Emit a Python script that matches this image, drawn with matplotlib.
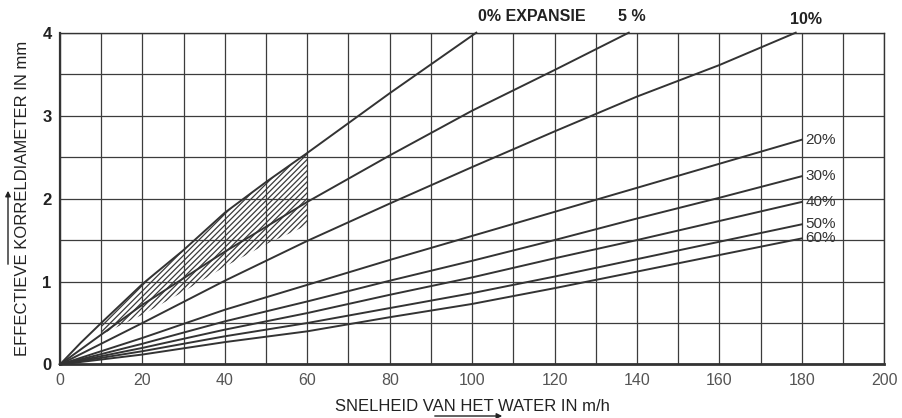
import numpy as np
import matplotlib
matplotlib.use('Agg')
import matplotlib.pyplot as plt

x_0 = [0, 5, 10, 20, 30, 40, 50, 60, 80, 101]
y_0 = [0, 0.26, 0.5, 0.97, 1.38, 1.83, 2.2, 2.55, 3.27, 4.0]
x_5 = [0, 10, 20, 30, 40, 60, 80, 100, 120, 138]
y_5 = [0, 0.36, 0.72, 1.04, 1.36, 1.96, 2.52, 3.06, 3.55, 4.0]
x_10 = [0, 20, 40, 60, 80, 100, 120, 140, 160, 178.5]
y_10 = [0, 0.5, 1.01, 1.49, 1.94, 2.38, 2.81, 3.23, 3.61, 4.0]

x_lo = [0, 20, 40, 60, 80, 100, 120, 140, 160, 180]
y_20 = [0, 0.32, 0.66, 0.96, 1.26, 1.55, 1.84, 2.13, 2.42, 2.71]
y_30 = [0, 0.25, 0.52, 0.76, 1.01, 1.25, 1.50, 1.76, 2.01, 2.27]
y_40 = [0, 0.20, 0.42, 0.62, 0.84, 1.05, 1.28, 1.50, 1.73, 1.96]
y_50 = [0, 0.16, 0.34, 0.50, 0.68, 0.86, 1.06, 1.27, 1.48, 1.69]
y_60 = [0, 0.12, 0.27, 0.40, 0.57, 0.73, 0.92, 1.12, 1.32, 1.52]
labels_lo = ['20%', '30%', '40%', '50%', '60%']

# gearceerd gebied
x_hatch = [10, 20, 30, 40, 50, 60]
y_hatch_top = [0.5, 0.97, 1.38, 1.83, 2.2, 2.55]
y_hatch_bot = [0.36, 0.6, 0.88, 1.18, 1.45, 1.68]

xticks = [0, 20, 40, 60, 80, 100, 120, 140, 160, 180, 200]
yticks = [0, 1, 2, 3, 4]

lc = '#333333'
plt.rcParams['font.family'] = ['Liberation Sans', 'DejaVu Sans']
plt.rcParams['hatch.linewidth'] = 0.9
plt.rcParams['hatch.color'] = '#3a3a3a'

fig = plt.figure(figsize=(9.03, 4.18), dpi=100)
ax = fig.add_axes([0.0664, 0.128, 0.9129, 0.7938])

ax.set_xlim(0, 200)
ax.set_ylim(0, 4)
ax.set_xticks(np.arange(0, 201, 10), minor=True)
ax.set_yticks(np.arange(0, 4.01, 0.5), minor=True)
ax.set_xticks(xticks)
ax.set_yticks(yticks)
ax.set_xticklabels([str(v) for v in xticks], fontsize=11.5, color='#555555')
ax.set_yticklabels([str(v) for v in yticks], fontsize=12, fontweight='bold', color='#222222')
ax.tick_params(which='both', length=0, pad=6)
ax.grid(which='both', color='#3c3c3c', linewidth=0.9)
ax.set_axisbelow(True)
for s in ax.spines.values():
    s.set_color('#333333')
    s.set_linewidth(1.0)
ax.spines['bottom'].set_linewidth(2.0)
ax.spines['left'].set_linewidth(1.6)

ax.fill_between(x_hatch, y_hatch_bot, y_hatch_top, facecolor='none',
                edgecolor='#3a3a3a', hatch='//////', linewidth=0)

kw = dict(color=lc, linewidth=1.4, clip_on=False)
ax.plot(x_0, y_0, **kw)
ax.plot(x_5, y_5, **kw)
ax.plot(x_10, y_10, **kw)
for yy, lab in zip([y_20, y_30, y_40, y_50, y_60], labels_lo):
    ax.plot(x_lo, yy, **kw)
    ax.text(x_lo[-1] + 0.8, yy[-1], lab, fontsize=11, color='#333333',
            va='center', ha='left')

ax.text(101.5, 4.1, '0% EXPANSIE', fontsize=11.5, fontweight='bold',
        color='#222222', va='bottom', ha='left')
ax.text(135.5, 4.1, '5 %', fontsize=11.5, fontweight='bold',
        color='#222222', va='bottom', ha='left')
ax.text(177, 4.07, '10%', fontsize=11.5, fontweight='bold',
        color='#222222', va='bottom', ha='left')

ax.set_xlabel('SNELHEID VAN HET WATER IN m/h', fontsize=12, color='#222222')
ax.xaxis.set_label_coords(0.5, -0.105)
ax.set_ylabel('EFFECTIEVE KORRELDIAMETER IN mm', fontsize=12, color='#222222')
ax.yaxis.set_label_coords(-0.036, 0.5)

# pijlen bij de aslabels
fig.patches.append(matplotlib.patches.FancyArrowPatch(
    (8 / 903, 1 - 267 / 418), (8 / 903, 1 - 188 / 418), transform=fig.transFigure,
    arrowstyle='-|>', mutation_scale=8, color='#222222', linewidth=1.0))
fig.patches.append(matplotlib.patches.FancyArrowPatch(
    (432 / 903, 1 - 416 / 418), (505 / 903, 1 - 416 / 418), transform=fig.transFigure,
    arrowstyle='-|>', mutation_scale=8, color='#222222', linewidth=1.0))

fig.savefig('out.png', dpi=100)
